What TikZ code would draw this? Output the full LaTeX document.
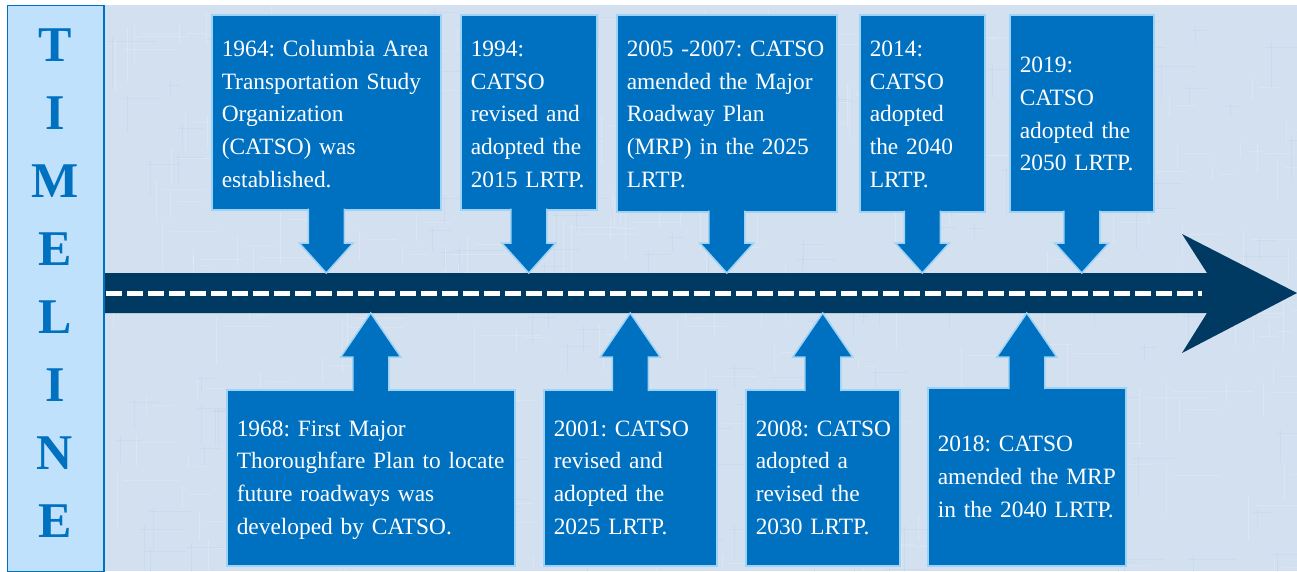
\documentclass[tikz,border=0pt]{standalone}
\usepackage{fontspec}
\setmainfont{Liberation Serif}

\definecolor{boxblue}{HTML}{0070C0}
\definecolor{edgeblue}{HTML}{9CD3F7}
\definecolor{roadblue}{HTML}{003A63}
\definecolor{paneblue}{HTML}{BFE1FB}
\definecolor{backblue}{HTML}{D3E0EF}
\definecolor{grainblue}{HTML}{9FBCDD}

% lines of an event, kept as typed (optional drop of the text)
\newcommand\eventlines[2][0pt]{\raisebox{-#1}[\height][\depth]{\begin{tabular}{@{}l@{}}#2\end{tabular}}}

\tikzset{
    event/.style={fill=boxblue, draw=edgeblue, line width=1.5pt, text=white,
        anchor=north west, inner xsep=10pt, inner ysep=0pt,
        font=\fontsize{23.4}{32.7}\selectfont\frenchspacing},
    pointer/.style={fill=boxblue, draw=edgeblue, line width=1.5pt},
    letter/.style={text=boxblue, font=\fontsize{50}{50}\selectfont\bfseries},
}

\begin{document}
\begin{tikzpicture}[x=1pt, y=-1pt]
    \useasboundingbox (0,0) rectangle (1297,571);

    % Background with a light linen grain
    \fill[backblue] (105,5) rectangle (1297,571);
    \begin{scope}
        \clip (105,5) rectangle (1297,571);
        \pgfmathsetseed{42}
        \foreach \k in {1,...,220} {
            \pgfmathsetmacro\px{105+1190*rnd}
            \pgfmathsetmacro\py{5+560*rnd}
            \pgfmathsetmacro\pl{10+50*rnd}
            \draw[white, opacity=0.22, line width=1pt] (\px,\py) -- ++(0,\pl);
            \draw[white, opacity=0.18, line width=1pt] (\px+7,\py+9) -- ++(\pl,0);
        }
        \foreach \k in {1,...,140} {
            \pgfmathsetmacro\px{105+1190*rnd}
            \pgfmathsetmacro\py{5+560*rnd}
            \pgfmathsetmacro\pl{10+40*rnd}
            \draw[grainblue, opacity=0.15, line width=1pt] (\px,\py) -- ++(0,\pl);
            \draw[grainblue, opacity=0.12, line width=1pt] (\px-5,\py+4) -- ++(\pl,0);
        }
    \end{scope}

    % Side panel
    \filldraw[fill=paneblue, draw=boxblue, line width=1pt] (7,5) rectangle (104,571);
    \draw[boxblue, line width=2pt] (104,5) -- (104,571);

    % Vertical title
    \foreach \c [count=\i] in {T,I,M,E,L,I,N,E} {
        \node[letter] (letter\i) at (55, -22.5+67.9*\i) {\c};
    }

    % Draw the road with its arrow head
    \fill[roadblue] (105,273) -- (1207,273) -- (1182,234) -- (1297,293)
        -- (1182,353) -- (1207,313) -- (105,313) -- cycle;
    \draw[white, line width=5pt, dash pattern=on 15.5pt off 5.5pt] (106,293) -- (1202,293);

    % Events above the road
    \node[event, text width=209pt, minimum height=195pt] (y1964) at (211,14)
        {\eventlines[3pt]{1964: Columbia Area\\Transportation Study\\Organization\\(CATSO) was\\established.}};
    \node[event, text width=116pt, minimum height=195pt] (y1994) at (460,14)
        {\eventlines[3pt]{1994:\\CATSO\\revised and\\adopted the\\2015 LRTP.}};
    \node[event, text width=200pt, minimum height=197pt] (y2005) at (616,14)
        {\eventlines[2pt]{2005 -2007: CATSO\\amended the Major\\Roadway Plan\\(MRP) in the 2025\\LRTP.}};
    \node[event, text width=105pt, minimum height=197pt] (y2014) at (859,14)
        {\eventlines[2pt]{2014:\\CATSO\\adopted\\the 2040\\LRTP.}};
    \node[event, text width=124pt, minimum height=197pt] (y2019) at (1009,14)
        {\eventlines[2pt]{2019:\\CATSO\\adopted the\\2050 LRTP.}};

    % Events below the road
    \node[event, text width=268pt, minimum height=176pt] (y1968) at (226,389)
        {\eventlines[1pt]{1968: First Major\\Thoroughfare Plan to locate\\future roadways was\\developed by CATSO.}};
    \node[event, text width=153pt, minimum height=176pt] (y2001) at (543,389)
        {\eventlines[1pt]{2001: CATSO\\revised and\\adopted the\\2025 LRTP.}};
    \node[event, text width=134pt, minimum height=176pt] (y2008) at (745,389)
        {\eventlines[1pt]{2008: CATSO\\adopted a\\revised the\\2030 LRTP.}};
    \node[event, text width=178pt, minimum height=178pt] (y2018) at (927,387)
        {\eventlines[1pt]{2018: CATSO\\amended the MRP\\in the 2040 LRTP.}};

    % Pointers down to the road
    \foreach \n in {y1964, y1994, y2005, y2014, y2019} {
        \filldraw[pointer] ([xshift=-18pt, yshift=2pt]\n.south) -- ([xshift=-18pt]\n.south |- 0,243)
            -- ([xshift=-27pt]\n.south |- 0,243) -- (\n.south |- 0,273)
            -- ([xshift=27pt]\n.south |- 0,243) -- ([xshift=18pt]\n.south |- 0,243)
            -- ([xshift=18pt, yshift=2pt]\n.south);
    }

    % Pointers up to the road
    \foreach \n in {y1968, y2001, y2008, y2018} {
        \filldraw[pointer] ([xshift=-18pt, yshift=-2pt]\n.north) -- ([xshift=-18pt]\n.north |- 0,357)
            -- ([xshift=-30pt]\n.north |- 0,357) -- (\n.north |- 0,313)
            -- ([xshift=30pt]\n.north |- 0,357) -- ([xshift=18pt]\n.north |- 0,357)
            -- ([xshift=18pt, yshift=-2pt]\n.north);
    }
\end{tikzpicture}
\end{document}
